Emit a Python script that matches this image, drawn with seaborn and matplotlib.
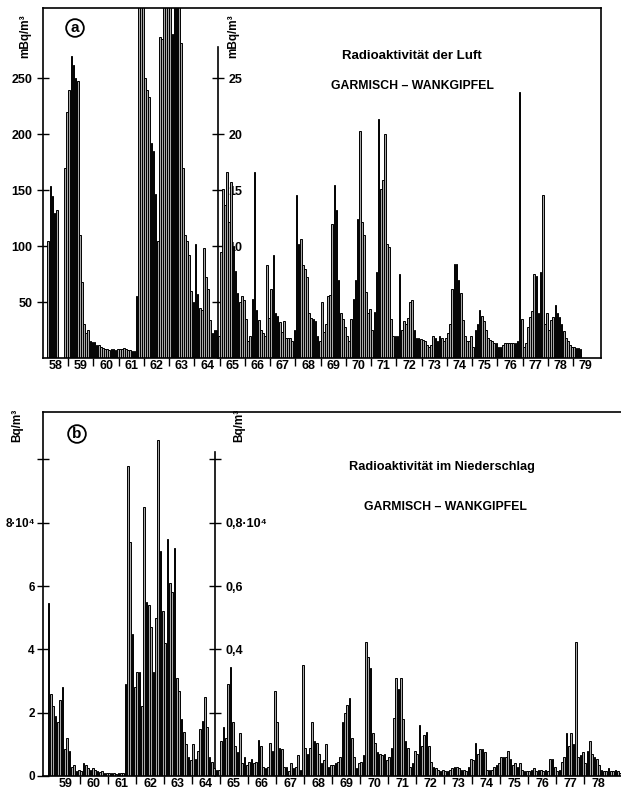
import numpy as np
import pandas as pd
import matplotlib
matplotlib.use('Agg')
import matplotlib.pyplot as plt
import seaborn as sns

sns.set_style('ticks')
plt.rcParams['font.family'] = ['Liberation Sans', 'DejaVu Sans']
plt.rcParams['font.weight'] = 'bold'
for key in ('text.color', 'axes.labelcolor', 'xtick.color', 'ytick.color', 'axes.edgecolor'):
    plt.rcParams[key] = 'black'

# ---- (a) air, monthly means, mBq/m3 ----
# Jan 1958 - Dec 1964, read on the outer scale
air_start = 1958.0
air_early = [
    0, 0, 105, 154, 145, 130, 132, 0, 0, 0, 170, 220,            # 1958
    240, 270, 262, 250, 248, 110, 68, 30, 22, 25, 15, 14,        # 1959
    14, 12, 12, 10, 9, 8, 8, 7, 8, 8, 7, 8,                      # 1960
    8, 8, 9, 8, 7, 7, 6, 6, 55, 400, 400, 330,                   # 1961
    250, 240, 233, 192, 185, 147, 105, 287, 285, 400, 400, 330,  # 1962
    400, 290, 400, 400, 400, 282, 170, 110, 105, 92, 60, 50,     # 1963
    102, 57, 45, 43, 98, 72, 62, 34, 22, 25, 25, 20,             # 1964
]
# Jan 1965 - Apr 1979, read on the inner scale (x10)
air_late = [
    9.5, 15.1, 13.7, 16.6, 12.2, 15.7, 10.0, 7.8, 5.8, 5.0, 5.5, 5.2,  # 1965
    3.5, 1.5, 2.0, 5.3, 16.6, 4.3, 3.4, 2.5, 2.2, 2.0, 8.3, 3.6,       # 1966
    6.2, 9.2, 4.0, 3.8, 3.2, 2.3, 3.3, 1.8, 1.8, 1.8, 1.5, 2.5,        # 1967
    14.6, 10.2, 10.6, 8.3, 8.0, 7.2, 4.0, 3.6, 3.5, 3.3, 2.0, 1.5,     # 1968
    5.0, 2.3, 3.0, 5.5, 5.6, 12.0, 15.5, 13.2, 7.0, 4.0, 3.5, 2.8,     # 1969
    2.0, 1.5, 3.5, 5.3, 7.0, 12.4, 20.3, 12.2, 11.0, 5.9, 4.0, 4.4,    # 1970
    2.5, 4.1, 7.7, 21.4, 15.1, 15.9, 20.0, 10.2, 9.9, 3.5, 2.0, 2.0,   # 1971
    2.0, 7.5, 2.5, 3.3, 3.0, 3.6, 5.0, 5.2, 2.5, 1.8, 1.8, 1.7,        # 1972
    1.6, 1.5, 1.2, 1.0, 1.2, 2.0, 1.8, 1.5, 2.0, 1.8, 1.5, 1.8,        # 1973
    2.2, 3.0, 6.2, 8.4, 8.4, 7.0, 5.8, 3.4, 2.0, 1.5, 1.5, 2.0,        # 1974
    1.0, 2.5, 3.0, 4.3, 3.8, 3.3, 2.5, 1.8, 1.6, 1.5, 1.3, 1.3,        # 1975
    1.0, 1.0, 1.2, 1.3, 1.3, 1.3, 1.3, 1.3, 1.3, 1.5, 23.8, 3.5,       # 1976
    1.0, 1.3, 2.8, 3.7, 4.2, 7.5, 7.3, 4.0, 7.7, 14.6, 3.0, 4.0,       # 1977
    2.5, 3.4, 3.7, 4.7, 4.0, 3.7, 3.0, 2.4, 1.8, 1.5, 1.2, 1.0,        # 1978
    1.0, 0.9, 0.9, 0.8,                                                # 1979
]

# ---- (b) precipitation, monthly, 10^4 Bq/m3 ----
# Nov 1958 - Dec 1964, outer scale
rain_start = 1958 + 10 / 12
rain_early = [
    5.46, 2.6,                                                        # 1958
    2.2, 1.9, 1.7, 2.4, 2.8, 0.85, 1.2, 0.8, 0.3, 0.35, 0.15, 0.2,    # 1959
    0.15, 0.4, 0.35, 0.25, 0.2, 0.25, 0.2, 0.15, 0.12, 0.15, 0.1, 0.1,  # 1960
    0.08, 0.08, 0.08, 0.07, 0.08, 0.08, 0.1, 2.9, 9.8, 7.4, 4.5, 2.8,   # 1961
    3.3, 3.3, 2.2, 8.5, 5.5, 5.4, 4.7, 3.3, 5.0, 10.6, 7.1, 5.2,      # 1962
    4.2, 7.5, 6.1, 5.8, 7.2, 3.1, 2.7, 1.8, 1.4, 1.0, 0.6, 0.5,       # 1963
    1.0, 0.55, 0.8, 1.5, 1.75, 2.5, 1.55, 0.6, 0.45, 0.25, 0.2, 0.2,  # 1964
]
# Jan 1965 - Apr 1979, inner scale (x10)
rain_late = [
    0.110, 0.155, 0.120, 0.290, 0.345, 0.170, 0.095, 0.075, 0.135, 0.040, 0.060, 0.035,  # 1965
    0.045, 0.055, 0.040, 0.045, 0.113, 0.095, 0.030, 0.025, 0.030, 0.104, 0.080, 0.270,  # 1966
    0.170, 0.088, 0.085, 0.028, 0.030, 0.015, 0.040, 0.025, 0.030, 0.065, 0.020, 0.350,  # 1967
    0.088, 0.070, 0.090, 0.170, 0.110, 0.105, 0.070, 0.040, 0.050, 0.100, 0.030, 0.035,  # 1968
    0.035, 0.040, 0.045, 0.060, 0.170, 0.200, 0.224, 0.245, 0.120, 0.060, 0.025, 0.040,  # 1969
    0.045, 0.065, 0.424, 0.377, 0.340, 0.136, 0.104, 0.075, 0.070, 0.065, 0.070, 0.050,  # 1970
    0.060, 0.090, 0.183, 0.310, 0.275, 0.310, 0.180, 0.110, 0.090, 0.030, 0.040, 0.080,  # 1971
    0.070, 0.160, 0.095, 0.130, 0.140, 0.095, 0.045, 0.030, 0.025, 0.020, 0.015, 0.020,  # 1972
    0.015, 0.015, 0.020, 0.025, 0.030, 0.030, 0.025, 0.020, 0.020, 0.015, 0.030, 0.055,  # 1973
    0.050, 0.105, 0.070, 0.085, 0.085, 0.075, 0.020, 0.020, 0.020, 0.030, 0.035, 0.040,  # 1974
    0.060, 0.060, 0.060, 0.080, 0.055, 0.035, 0.040, 0.030, 0.040, 0.020, 0.015, 0.015,  # 1975
    0.015, 0.020, 0.025, 0.015, 0.020, 0.020, 0.015, 0.020, 0.015, 0.055, 0.055, 0.030,  # 1976
    0.015, 0.020, 0.045, 0.060, 0.136, 0.095, 0.136, 0.100, 0.424, 0.060, 0.065, 0.075,  # 1977
    0.040, 0.080, 0.110, 0.070, 0.060, 0.055, 0.035, 0.020, 0.015, 0.015, 0.025, 0.015,  # 1978
    0.015, 0.020, 0.015, 0.010,                                                          # 1979
]

SCALE = 10      # inner scale = outer scale / 10
BREAK = 1965.0  # first month read on the inner scale

air_years = [f'{y % 100}' for y in range(1958, 1980)]
rain_years = [f'{y % 100}' for y in range(1959, 1979)]


def months(start, values):
    return start + (np.arange(len(values)) + 0.5) / 12


def draw_bars(ax, t, v):
    df = pd.DataFrame({'t': t, 'v': v})
    sns.barplot(data=df, x='t', y='v', native_scale=True, errorbar=None,
                width=0.8, color='#a8a8a8', saturation=1,
                edgecolor='black', linewidth=0.7, ax=ax)


def style_axis(ax, xlim, ylim, year_labels, first_year):
    ax.set_xlim(*xlim)
    ax.set_ylim(*ylim)
    ax.set_xlabel('')
    ax.set_ylabel('')
    n = len(year_labels)
    ax.set_xticks(np.arange(first_year + 1, first_year + n), labels=[])
    ax.set_xticks(np.arange(first_year, first_year + n) + 0.5,
                  labels=year_labels, minor=True)
    ax.tick_params(axis='x', which='major', direction='out', length=6, width=1)
    ax.tick_params(axis='x', which='minor', length=0, pad=1.5, labelsize=9)
    ax.tick_params(axis='y', direction='inout', length=8, width=1, labelsize=9)
    for s in ax.spines.values():
        s.set_linewidth(1.2)


fig = plt.figure(figsize=(6.21, 7.94), dpi=100)

# ---------- panel a ----------
axa = fig.add_axes([43 / 621, 1 - 358 / 794, 558 / 621, 350 / 794])
draw_bars(axa, months(air_start, air_early), air_early)
draw_bars(axa, months(BREAK, air_late), np.array(air_late) * SCALE)
xa = (1958.0, 1980.1)
style_axis(axa, xa, (0, 313), air_years, 1958)
axa.set_yticks([50, 100, 150, 200, 250])

pos_a = (1964.94 - xa[0]) / (xa[1] - xa[0])
seca = axa.secondary_yaxis(pos_a, functions=(lambda y: y / SCALE, lambda y: y * SCALE))
seca.set_alignment('right')
seca.set_yticks([5, 10, 15, 20, 25], labels=['', '10', '15', '20', '25'])
seca.tick_params(direction='inout', length=8, width=1, labelsize=9)
for s in ('left', 'right'):
    seca.spines[s].set_bounds(0, 27.8)
    seca.spines[s].set_linewidth(1.2)

# ---------- panel b ----------
axb = fig.add_axes([43 / 621, 1 - 776 / 794, 578 / 621, 364 / 794])
draw_bars(axb, months(rain_start, rain_early), rain_early)
draw_bars(axb, months(BREAK, rain_late), np.array(rain_late) * SCALE)
xb = (1958.68, 1979.32)
style_axis(axb, xb, (0, 11.5), rain_years, 1959)
axb.set_yticks([0, 2, 4, 6, 8, 10], labels=['0', '2', '4', '6', '8·10⁴', ''])
axb.tick_params(axis='y', labelsize=8.5, pad=2)
axb.spines['right'].set_visible(False)

pos_b = (1964.82 - xb[0]) / (xb[1] - xb[0])
secb = axb.secondary_yaxis(pos_b, functions=(lambda y: y / SCALE, lambda y: y * SCALE))
secb.set_alignment('right')
secb.set_yticks([0.2, 0.4, 0.6, 0.8, 1.0], labels=['', '0,4', '0,6', '0,8·10⁴', ''])
secb.tick_params(direction='inout', length=8, width=1, labelsize=9)
for s in ('left', 'right'):
    secb.spines[s].set_bounds(0, 1.025)
    secb.spines[s].set_linewidth(1.2)

# ---------- texts ----------
def ftext(x, y, s, **kw):
    fig.text(x / 621, 1 - y / 794, s, ha='center', va='center', fontweight='bold', **kw)

circle = dict(boxstyle='circle,pad=0.12', fc='white', ec='black', lw=1.3)
ftext(75, 28, 'a', fontsize=11, bbox=circle)
ftext(77, 434, 'b', fontsize=11, bbox=circle)

ftext(25, 36, 'mBq/m³', fontsize=8.5, rotation=90)
ftext(233, 36, 'mBq/m³', fontsize=8.5, rotation=90)
ftext(17, 425, 'Bq/m³', fontsize=8.5, rotation=90)
ftext(239, 425, 'Bq/m³', fontsize=8.5, rotation=90)

ftext(412, 56, 'Radioaktivität der Luft', fontsize=9.5)
ftext(412, 86, 'GARMISCH – WANKGIPFEL', fontsize=8.8)
ftext(442, 467, 'Radioaktivität im Niederschlag', fontsize=9.2)
ftext(445, 507, 'GARMISCH – WANKGIPFEL', fontsize=8.8)

fig.savefig('out.png', dpi=100)
